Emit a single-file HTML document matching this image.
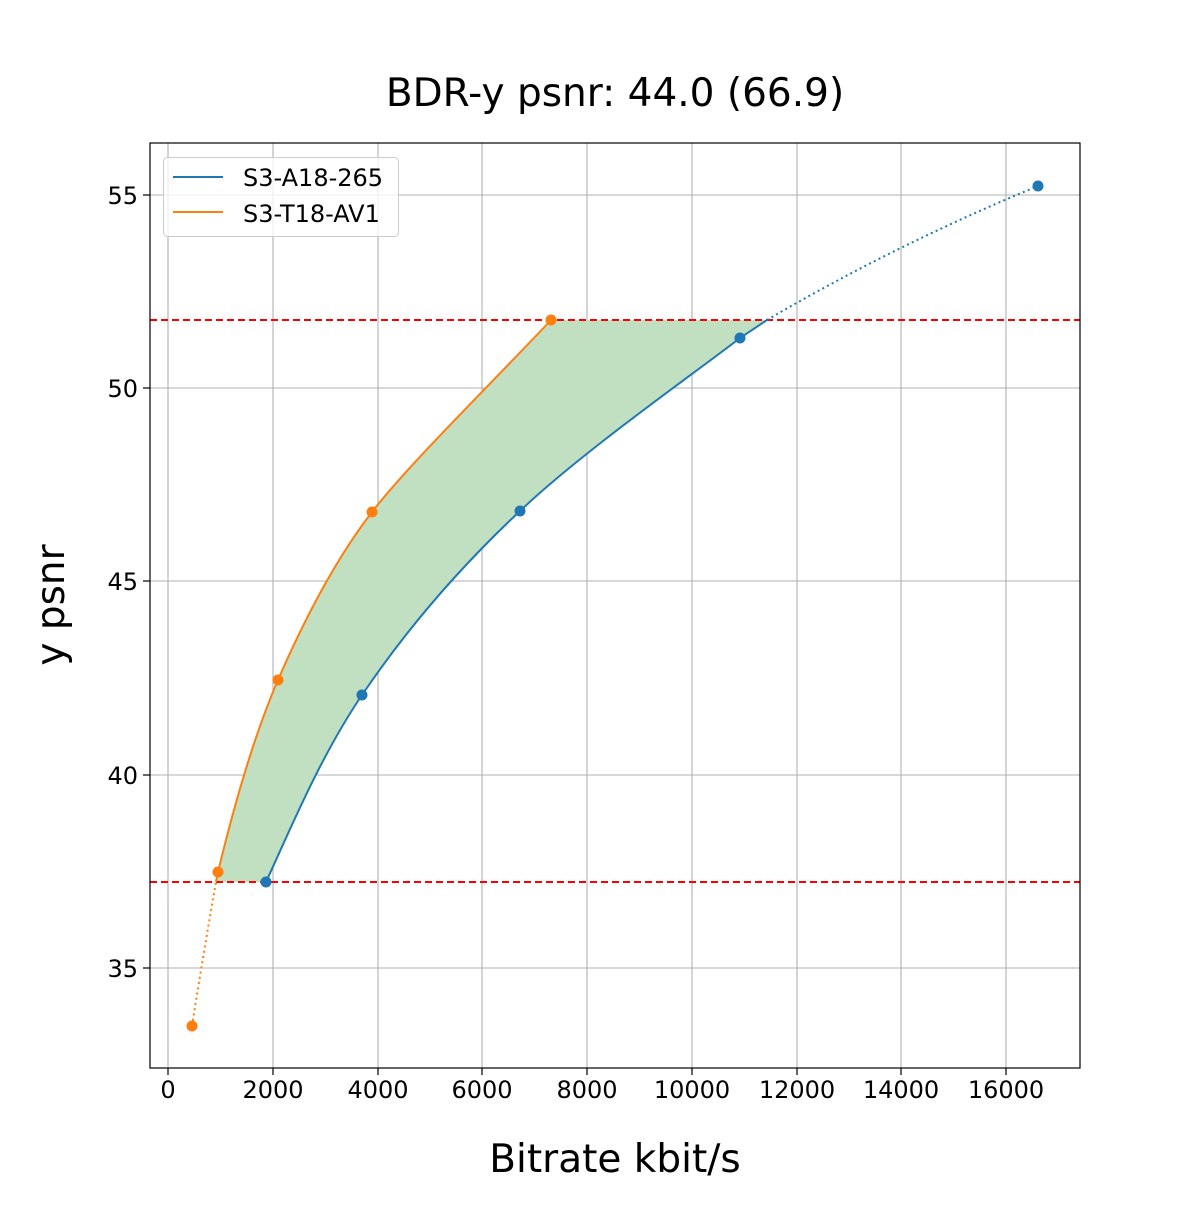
<!DOCTYPE html>
<html><head><meta charset="utf-8"><style>
html,body{margin:0;padding:0;background:#fff;}
svg text{font-family:"DejaVu Sans","Liberation Sans",sans-serif;fill:#000;}
</style></head><body>
<svg width="1200" height="1200" viewBox="0 0 1200 1200" xmlns="http://www.w3.org/2000/svg">
<rect width="1200" height="1200" fill="#fff"/>
<g stroke="#b0b0b0" stroke-width="1.1">
<line x1="168" y1="143" x2="168" y2="1068"/><line x1="273" y1="143" x2="273" y2="1068"/>
<line x1="378" y1="143" x2="378" y2="1068"/><line x1="482" y1="143" x2="482" y2="1068"/>
<line x1="587" y1="143" x2="587" y2="1068"/><line x1="692" y1="143" x2="692" y2="1068"/>
<line x1="797" y1="143" x2="797" y2="1068"/><line x1="901" y1="143" x2="901" y2="1068"/>
<line x1="1006" y1="143" x2="1006" y2="1068"/>
<line x1="150" y1="195" x2="1080" y2="195"/><line x1="150" y1="388" x2="1080" y2="388"/>
<line x1="150" y1="581" x2="1080" y2="581"/><line x1="150" y1="775" x2="1080" y2="775"/>
<line x1="150" y1="968" x2="1080" y2="968"/>
</g>
<path d="M216,882 L218,872 C232,814 252,740 278,680 C304,620 335,560 372,512 C409,464 491,384 551,320 L767,320 L740,338 C699,370 583,451 520,511 C457,570 404,633 362,695 C320,757 290,830 266,882 Z" fill="#c1dfc1"/>
<line x1="150" y1="320" x2="1080" y2="320" stroke="#ff0000" stroke-width="2" stroke-dasharray="7,4"/>
<line x1="150" y1="882" x2="1080" y2="882" stroke="#ff0000" stroke-width="2" stroke-dasharray="7,4"/>
<path d="M266,882 C290,830 320,757 362,695 C404,633 457,570 520,511 C583,451 699,370 740,338 L767,320" fill="none" stroke="#1f77b4" stroke-width="2"/>
<path d="M767,320 Q895,245 1038,186" fill="none" stroke="#1f77b4" stroke-width="2" stroke-dasharray="2,3.3"/>
<path d="M216,882 L218,872 C232,814 252,740 278,680 C304,620 335,560 372,512 C409,464 491,384 551,320" fill="none" stroke="#ff7f0e" stroke-width="2"/>
<path d="M192,1026 Q204,950 216,882" fill="none" stroke="#ff7f0e" stroke-width="2" stroke-dasharray="2,3.3"/>
<g fill="#1f77b4"><circle cx="266" cy="882" r="5.5"/><circle cx="362" cy="695" r="5.5"/><circle cx="520" cy="511" r="5.5"/><circle cx="740" cy="338" r="5.5"/><circle cx="1038" cy="186" r="5.5"/></g>
<g fill="#ff7f0e"><circle cx="192" cy="1026" r="5.5"/><circle cx="218" cy="872" r="5.5"/><circle cx="278" cy="680" r="5.5"/><circle cx="372" cy="512" r="5.5"/><circle cx="551" cy="320" r="5.5"/></g>
<rect x="150" y="143" width="930" height="925" fill="none" stroke="#000" stroke-width="1.2"/>
<g stroke="#000" stroke-width="1.2">
<line x1="168" y1="1068" x2="168" y2="1075"/><line x1="273" y1="1068" x2="273" y2="1075"/><line x1="378" y1="1068" x2="378" y2="1075"/><line x1="482" y1="1068" x2="482" y2="1075"/><line x1="587" y1="1068" x2="587" y2="1075"/><line x1="692" y1="1068" x2="692" y2="1075"/><line x1="797" y1="1068" x2="797" y2="1075"/><line x1="901" y1="1068" x2="901" y2="1075"/><line x1="1006" y1="1068" x2="1006" y2="1075"/>
<line x1="143" y1="195" x2="150" y2="195"/><line x1="143" y1="388" x2="150" y2="388"/><line x1="143" y1="581" x2="150" y2="581"/><line x1="143" y1="775" x2="150" y2="775"/><line x1="143" y1="968" x2="150" y2="968"/>
</g>
<g font-size="24" text-anchor="middle">
<text x="168" y="1098">0</text><text x="273" y="1098">2000</text><text x="378" y="1098">4000</text><text x="482" y="1098">6000</text><text x="587" y="1098">8000</text><text x="692" y="1098">10000</text><text x="797" y="1098">12000</text><text x="901" y="1098">14000</text><text x="1006" y="1098">16000</text>
</g>
<g font-size="24" text-anchor="end">
<text x="138" y="204">55</text><text x="138" y="397">50</text><text x="138" y="590">45</text><text x="138" y="784">40</text><text x="138" y="977">35</text>
</g>
<text x="615" y="106" font-size="39" text-anchor="middle">BDR-y psnr: 44.0 (66.9)</text>
<text x="615" y="1172" font-size="39" text-anchor="middle">Bitrate kbit/s</text>
<text transform="translate(64,605) rotate(-90)" font-size="39" text-anchor="middle">y psnr</text>
<rect x="163.5" y="157.5" width="235" height="79" rx="4" fill="#fff" fill-opacity="0.8" stroke="#ccc"/>
<line x1="173" y1="177" x2="223" y2="177" stroke="#1f77b4" stroke-width="2"/>
<line x1="173" y1="212" x2="223" y2="212" stroke="#ff7f0e" stroke-width="2"/>
<text x="243" y="186" font-size="24">S3-A18-265</text>
<text x="243" y="222" font-size="24">S3-T18-AV1</text>
</svg>
</body></html>
